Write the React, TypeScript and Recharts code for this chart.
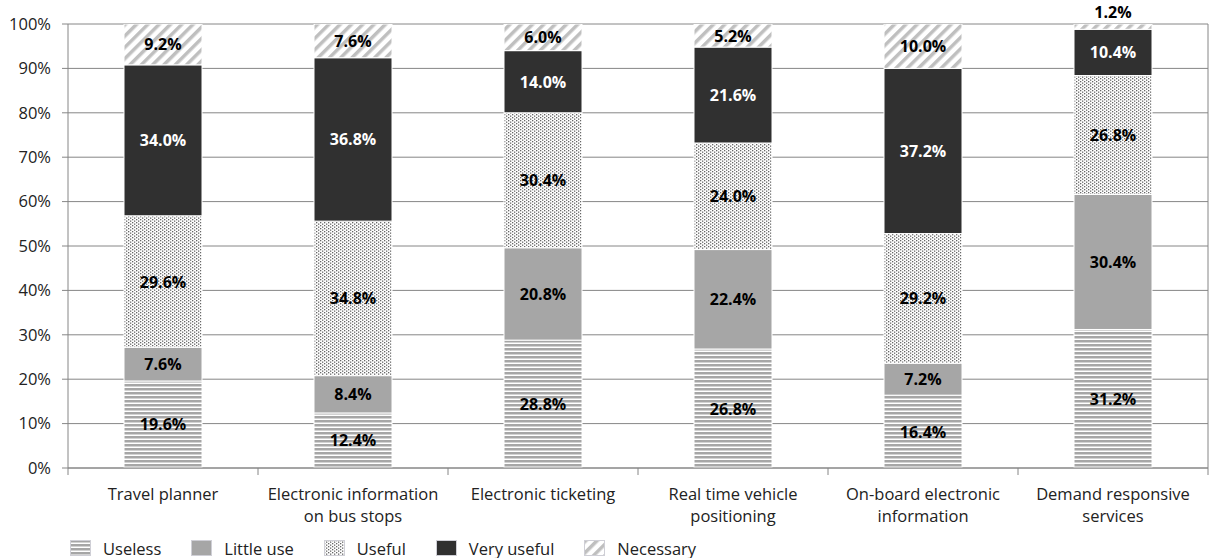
import React from "react";
import { Bar, BarChart, CartesianGrid, LabelList, Legend, XAxis, YAxis } from "recharts";

const categories = [
  "Travel planner",
  "Electronic information\non bus stops",
  "Electronic ticketing",
  "Real time vehicle\npositioning",
  "On-board electronic\ninformation",
  "Demand responsive\nservices",
];
const useless = [19.6, 12.4, 28.8, 26.8, 16.4, 31.2];
const littleUse = [7.6, 8.4, 20.8, 22.4, 7.2, 30.4];
const useful = [29.6, 34.8, 30.4, 24.0, 29.2, 26.8];
const veryUseful = [34.0, 36.8, 14.0, 21.6, 37.2, 10.4];
const necessary = [9.2, 7.6, 6.0, 5.2, 10.0, 1.2];
const yTicks = [0, 10, 20, 30, 40, 50, 60, 70, 80, 90, 100];

const data = categories.map((name, i) => ({
  name,
  useless: useless[i],
  littleUse: littleUse[i],
  useful: useful[i],
  veryUseful: veryUseful[i],
  necessary: necessary[i],
}));

const series = [
  { key: "useless", name: "Useless", fill: "url(#pUseless)", text: "#000" },
  { key: "littleUse", name: "Little use", fill: "#a6a6a6", text: "#000" },
  { key: "useful", name: "Useful", fill: "url(#pUseful)", text: "#000" },
  { key: "veryUseful", name: "Very useful", fill: "#303030", text: "#fff" },
  { key: "necessary", name: "Necessary", fill: "url(#pNecessary)", text: "#000" },
];

const W = 1210;
const H = 558;
const AXIS_W = 68;
const BAND = (W - AXIS_W - 2) / categories.length;
const GRAY = "#868686";
const FONT = "'Open Sans', sans-serif";

function Patterns() {
  return (
    <svg width={0} height={0} style={{ position: "absolute" }}>
      <defs>
        <pattern id="pUseless" width={6} height={4} patternUnits="userSpaceOnUse">
          <rect width={6} height={4} fill="#fff" />
          <rect width={6} height={2.5} fill="#a6a6a6" />
        </pattern>
        <pattern id="pUseful" width={4} height={3} patternUnits="userSpaceOnUse">
          <rect width={4} height={3} fill="#fff" />
          <rect x={0} y={0} width={1.3} height={1.3} fill="#666" />
          <rect x={2} y={1.5} width={1.3} height={1.3} fill="#666" />
        </pattern>
        <pattern
          id="pNecessary"
          width={8}
          height={8}
          patternUnits="userSpaceOnUse"
          patternTransform="rotate(45)"
        >
          <rect width={8} height={8} fill="#fff" />
          <rect width={3.5} height={8} fill="#bfbfbf" />
        </pattern>
      </defs>
    </svg>
  );
}

const makeLabel = (color: string) => (props: any) => {
  const { x, y, width, height, value } = props;
  if (value == null) return null;
  const small = height < 14;
  return (
    <text
      x={x + width / 2}
      y={small ? y - 12 : y + height / 2}
      textAnchor="middle"
      dominantBaseline="central"
      fontFamily={FONT}
      fontWeight={700}
      fontSize={16}
      fill={small ? "#000" : color}
    >
      {Number(value).toFixed(1)}%
    </text>
  );
};

function CategoryTick(props: any) {
  const { x, y, payload, index } = props;
  const lines = String(payload.value).split("\n");
  const half = BAND / 2;
  return (
    <g>
      <line x1={x - half} x2={x - half} y1={y} y2={y + 7} stroke={GRAY} />
      {index === categories.length - 1 && (
        <line x1={x + half} x2={x + half} y1={y} y2={y + 7} stroke={GRAY} />
      )}
      {lines.map((l, i) => (
        <text
          key={i}
          x={x}
          y={y + 25 + i * 22}
          textAnchor="middle"
          dominantBaseline="central"
          fontFamily={FONT}
          fontSize={16.5}
          fill="#222"
        >
          {l}
        </text>
      ))}
    </g>
  );
}

function LegendContent() {
  return (
    <div style={{ display: "flex", alignItems: "center", height: 20, fontFamily: FONT, fontSize: 16.5, color: "#222" }}>
      {series.map((s) => (
        <div key={s.key} style={{ display: "flex", alignItems: "center", marginRight: 30 }}>
          <svg width={21} height={16} style={{ marginRight: 12 }}>
            <rect x={0.5} y={0.5} width={20} height={15} fill={s.fill} stroke="#cfcfd6" />
          </svg>
          <span>{s.name}</span>
        </div>
      ))}
    </div>
  );
}

export default function App() {
  return (
    <div style={{ position: "absolute", left: 0, top: 0, width: W, height: H, background: "#fff", fontFamily: FONT }}>
      <Patterns />
      <BarChart
        width={W}
        height={H}
        data={data}
        margin={{ top: 24, right: 0, left: 0, bottom: 0 }}
        barSize={78}
      >
        <CartesianGrid horizontal vertical={false} stroke={GRAY} />
        <XAxis
          dataKey="name"
          height={70}
          interval={0}
          tickLine={false}
          tickSize={0}
          tickMargin={0}
          axisLine={{ stroke: GRAY }}
          tick={<CategoryTick />}
        />
        <YAxis
          width={AXIS_W}
          domain={[0, 100]}
          ticks={yTicks}
          tickFormatter={(v: number) => `${v}%`}
          tickSize={6}
          tickMargin={11}
          axisLine={{ stroke: GRAY }}
          tickLine={{ stroke: GRAY }}
          tick={{ fill: "#222", fontSize: 16.5, fontFamily: FONT }}
          allowDataOverflow
        />
        <YAxis
          yAxisId="right"
          orientation="right"
          width={2}
          domain={[0, 100]}
          tick={false}
          tickLine={false}
          axisLine={{ stroke: GRAY }}
        />
        <Legend
          verticalAlign="bottom"
          align="left"
          content={<LegendContent />}
          wrapperStyle={{ left: 70, height: 20 }}
        />
        {series.map((s) => (
          <Bar
            key={s.key}
            dataKey={s.key}
            name={s.name}
            stackId="a"
            fill={s.fill}
            stroke="#fff"
            strokeWidth={1}
            isAnimationActive={false}
          >
            <LabelList dataKey={s.key} content={makeLabel(s.text)} />
          </Bar>
        ))}
      </BarChart>
    </div>
  );
}
